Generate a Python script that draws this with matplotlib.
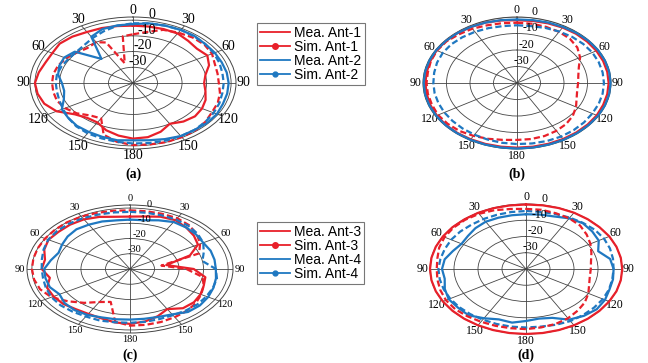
import numpy as np
import matplotlib.pyplot as plt
from matplotlib.lines import Line2D

RED = '#e8202a'
BLUE = '#1f78c1'
SERIF = 'Liberation Serif'

# angles in degrees, clockwise from top
ang10 = list(range(0, 360, 10))
ang_a_sim1 = list(range(0, 340, 10)) + [337, 345, 352]

theta_labels = ['0', '30', '60', '90', '120', '150', '180', '150', '120', '90', '60', '30']
r_ticks = [-30, -20, -10, 0]

# (a) dB values
a_mea1 = [-3.5, -3.5, -3.5, -3.6, -5, -6, -5, -7, -10, -11, -10, -8.5, -7.5, -7, -8, -10, -7, -5,
          -4.6, -6, -8, -11, -11, -9, -4, -1.5, -0.5, 0, -1, -2, -2, -1, -1.5, -2.5, -2.8, -3.2]
a_sim1 = [-9, -7, -4, -3, -2.2, -2, -2.8, -4.5, -5, -5, -4, -3.2, -2.8, -1.5, -0.5, -0.2, 0, -0.3,
          -0.5, -2, -5, -14, -13, -10, -8, -7, -7, -7, -7, -7.5, -8.5, -10, -11, -10, -12, -27, -10]
a_mea2 = [-2.5, -1.5, -1.2, -1, -1, -1.5, -1.5, -1.5, -1.2, -1, -1, -1, -0.5, -0.5, -1, -1, -2, -3,
          -3.5, -3, -3.5, -4, -4.4, -5.5, -6.5, -10, -11.5, -11, -9, -8, -7.6, -9, -20, -6, -3.5, -2.8]
a_sim2 = [-2, -1.5, -1.2, -1, -1.2, -1.5, -2, -2.5, -3, -3, -3, -2.5, -2, -1.5, -1, -1, -1, -1.2,
          -1.5, -2, -2.5, -3, -4, -5.5, -7, -8, -8.5, -8.5, -8.5, -9, -9.5, -9.6, -8.8, -7, -5, -3]

# (b)
b_mea1 = [-2, -1.8, -1.5, -1.2, -1, -1, -1, -1, -1, -1, -1, -1, -0.8, -0.8, -0.8, -0.8, -0.8, -0.8,
          -0.8, -0.8, -0.7, -0.6, -0.5, -0.5, -0.6, -0.8, -1, -1, -1, -0.8, -0.5, -0.5, -0.6, -0.8, -1, -1.5]
b_sim1 = [-3.5, -3.5, -3.8, -4.2, -5, -6.5, -9, -12, -13.5, -14, -14, -13, -11, -9, -7.5, -6.5, -5.8, -5.5,
          -5.5, -5, -4, -3, -2, -1.5, -1.2, -1.5, -1.5, -1.5, -1.5, -1, -0.7, -0.8, -1.5, -2, -2.8, -3.2]
b_mea2 = [-1.5, -1.3, -1, -0.8, -0.5, -0.3, -0.2, -0.2, -0.2, -0.2, -0.2, -0.2, -0.2, -0.3, -0.3, -0.3, -0.3, -0.3,
          -0.3, -0.3, -0.3, -0.3, -0.3, -0.3, -0.3, -0.3, -0.3, -0.3, -0.3, -0.3, -0.3, -0.4, -0.5, -0.7, -1, -1.3]
b_sim2 = [-5, -5, -4.5, -4, -3.5, -3.2, -3, -3, -3, -3, -3, -3, -3, -2.8, -2.6, -2.5, -2.6, -2.8,
          -3, -3.2, -3.5, -3.8, -4, -4.2, -4.3, -4.4, -4.4, -4.4, -4.2, -3.8, -3.5, -3.5, -3.8, -4.2, -4.6, -5]

# (c)
c_mea3 = [-5.6, -5, -3.5, -3, -4.4, -6, -8, -14, -25, -14, -8.8, -8, -6.8, -6, -6.4, -9.6, -7, -5,
          -4, -4.4, -5.6, -6, -5.6, -4.4, -4, -4, -6.8, -4, -4.8, -2.8, -1.6, -2, -2, -2.4, -3.6, -5.2]
c_sim3 = [-1.5, -1.5, -1.5, -1.5, -2.5, -4.4, -7, -10, -27, -17, -10, -8, -6.5, -5, -4, -3.5, -3, -2.8,
          -2.8, -5, -17, -15, -11, -7, -3, -1, -0.3, 0, 0, 0, 0, 0, 0, -0.3, -0.8, -1.2]
c_mea4 = [-7.6, -7.5, -6, -4.4, -4.4, -4.8, -5.5, -5, -5, -5, -4.4, -3.8, -3.2, -2.8, -3.2, -5.6, -6.5, -6.8,
          -6.8, -6.5, -6.2, -5.2, -4.8, -5.2, -6.8, -5.2, -5, -5, -7.2, -9, -8, -6.8, -6, -6.4, -6.8, -7.6]
c_sim4 = [-2.5, -2.5, -2.5, -2.5, -3, -4, -5.5, -8, -10, -5, -4, -4, -4, -4, -4.5, -5, -5, -4.8,
          -4.7, -4.5, -4, -4, -3.5, -3, -3, -3.5, -4, -4, -3.5, -2.5, -1.5, -1.2, -1.2, -1.5, -2, -2.3]

# (d)
d_mea3 = [-0.3, -0.2, -0.1, 0, 0, 0, 0.1, 0.1, 0.1, 0.1, 0.1, 0.1, 0, 0, 0, 0, 0, 0,
          0, 0, 0, 0, 0, 0, 0, 0, 0, 0, 0, 0, 0, 0, -0.1, -0.1, -0.2, -0.3]
d_sim3 = [-3, -3, -3.5, -4, -5, -7, -9, -11, -12.5, -13, -13, -12, -10, -8, -6.5, -5, -4, -3.5,
          -3, -3, -2.8, -2.5, -2, -1.5, -1.5, -2, -2.5, -2.8, -2.5, -1.5, -0.8, -0.5, -0.5, -0.8, -1.5, -2.5]
d_mea4 = [-6.3, -6, -5.6, -4, -3.2, -4, -5, -8, -4.4, -3.5, -3.2, -3, -2, -1.5, -2.4, -4, -8, -9,
          -8, -6.5, -7, -5, -2.8, -3, -2.8, -4, -5.6, -5, -5.6, -7.6, -9, -8.4, -7.2, -6.4, -6.4, -6.4]
d_sim4 = [-4.3, -4.3, -4, -3.5, -3, -2.5, -2.5, -2.8, -3.2, -3.5, -3.5, -3.2, -3, -3, -3, -3, -3.5, -4,
          -4, -4, -4, -4, -3.8, -3.6, -3.5, -3.5, -3.5, -3.5, -3.8, -4, -4, -4.2, -4.5, -4.5, -4.5, -4.4]

W, H = 648, 363
fig = plt.figure(figsize=(W / 100, H / 100), dpi=100)
DASH = (0, (2.8, 1.4))


def panel(cx, cy, hw, hh, rmax, fs, band, curves, tag, tag_y):
    rect = [(cx - hw) / W, 1 - (cy + hh) / H, 2 * hw / W, 2 * hh / H]
    ax = fig.add_axes(rect, projection='polar')
    ax.set_aspect('auto')
    ax.set_theta_zero_location('N')
    ax.set_theta_direction(-1)
    for ang, vals, color, ls in curves:
        th = np.deg2rad(ang + [ang[0] + 360])
        ax.plot(th, vals + [vals[0]], color=color, ls=ls, lw=1.6, clip_on=False, zorder=3)
    ax.set_ylim(-40, rmax)
    ax.set_yticks(r_ticks)
    ax.set_yticklabels([])
    ax.set_xticks(np.deg2rad(range(0, 360, 30)))
    ax.set_xticklabels(theta_labels, fontsize=fs, family=SERIF)
    ax.grid(color='#444444', lw=0.6)
    ax.spines['polar'].set_color('#444444')
    ax.spines['polar'].set_linewidth(0.7)
    if band:
        ax.set_xticks(np.deg2rad(range(0, 360, 5)), minor=True)
        ax.tick_params(axis='x', which='major', direction='in', length=5, width=0.6,
                       color='#444444', pad=-2)
        ax.tick_params(axis='x', which='minor', direction='in', length=4, width=0.5, color='#444444')
    else:
        ax.tick_params(axis='x', which='major', length=0, pad=-2)
    for r in r_ticks:
        ax.text(np.deg2rad(11), r, str(r), fontsize=fs, family=SERIF,
                ha='center', va='bottom', zorder=4)
    fig.text(cx / W, 1 - tag_y / H, tag, fontsize=10, family=SERIF,
             fontweight='bold', ha='center', va='center')
    return ax


panel(133, 83, 103, 66, 2, 10, True,
      [(ang10, a_mea1, RED, '-'), (ang_a_sim1, a_sim1, RED, DASH),
       (ang10, a_mea2, BLUE, '-'), (ang10, a_sim2, BLUE, DASH)], '(a)', 174)
panel(517, 83, 94, 66, 0, 8.5, False,
      [(ang10, b_mea1, RED, '-'), (ang10, b_sim1, RED, DASH),
       (ang10, b_mea2, BLUE, '-'), (ang10, b_sim2, BLUE, DASH)], '(b)', 174)
panel(130, 269, 103, 64, 2, 7.5, True,
      [(ang10, c_mea3, RED, '-'), (ang10, c_sim3, RED, DASH),
       (ang10, c_mea4, BLUE, '-'), (ang10, c_sim4, BLUE, DASH)], '(c)', 355)
panel(526, 269, 96, 65, 0, 8.5, False,
      [(ang10, d_mea4, BLUE, '-'), (ang10, d_sim4, BLUE, DASH),
       (ang10, d_sim3, RED, DASH), (ang10, d_mea3, RED, '-')], '(d)', 355)


def legend(y_top, names):
    handles = [Line2D([], [], color=RED, lw=1.3),
               Line2D([], [], color=RED, lw=1.3, marker='o', ms=4),
               Line2D([], [], color=BLUE, lw=1.3),
               Line2D([], [], color=BLUE, lw=1.3, marker='o', ms=3.5)]
    leg = fig.legend(handles, names, loc='upper left', bbox_to_anchor=(257 / W, 1 - y_top / H),
                     borderaxespad=0, frameon=True, fancybox=False, numpoints=1,
                     prop={'family': 'Liberation Sans', 'size': 10}, handlelength=2.2,
                     handletextpad=0.3, labelspacing=0.0, borderpad=0.2)
    leg.get_frame().set_edgecolor('#555555')
    leg.get_frame().set_linewidth(0.8)


legend(23, ['Mea. Ant-1', 'Sim. Ant-1', 'Mea. Ant-2', 'Sim. Ant-2'])
legend(222, ['Mea. Ant-3', 'Sim. Ant-3', 'Mea. Ant-4', 'Sim. Ant-4'])

fig.savefig('out.png', dpi=100)
